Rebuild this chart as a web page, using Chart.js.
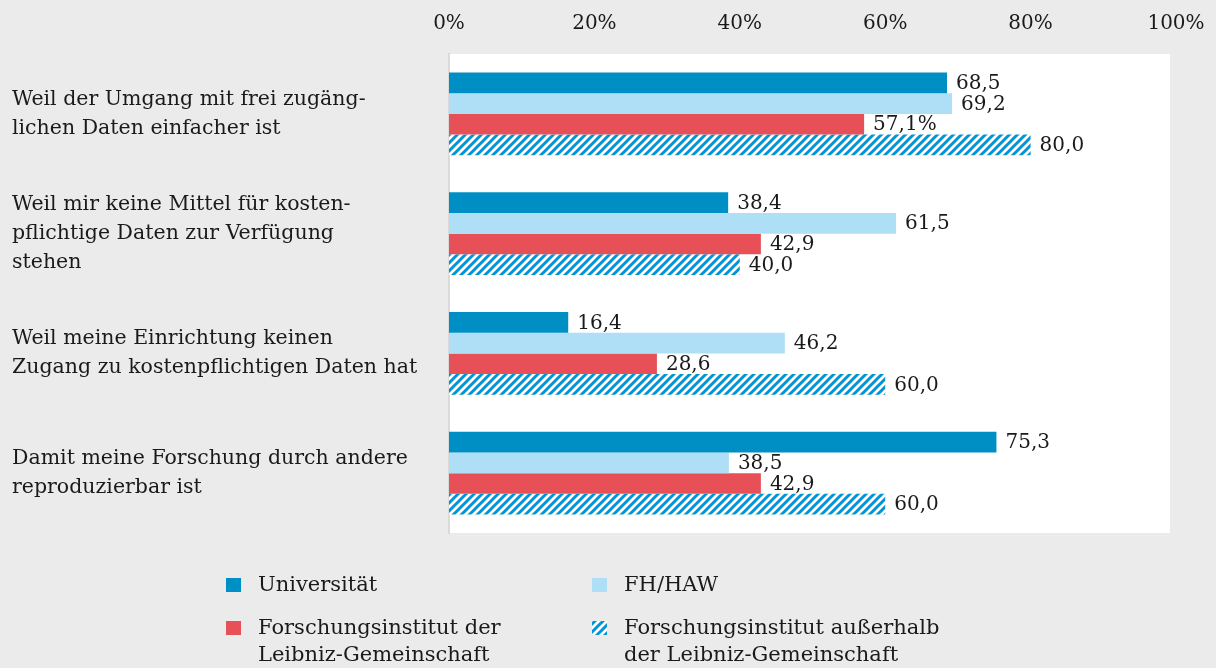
<!DOCTYPE html>
<html>
<head>
<meta charset="utf-8">
<script src="https://cdn.jsdelivr.net/npm/chart.js@4/dist/chart.umd.min.js"></script>
<style>
  html, body { margin: 0; padding: 0; background: #ebebeb; }
  #wrap { width: 1216px; height: 668px; position: relative; }
</style>
</head>
<body>
<div id="wrap"><canvas id="chart"></canvas></div>
<script>
// categories (multi-line, as in the original)
const categories = [
  ['Weil der Umgang mit frei zugäng-', 'lichen Daten einfacher ist'],
  ['Weil mir keine Mittel für kosten-', 'pflichtige Daten zur Verfügung', 'stehen'],
  ['Weil meine Einrichtung keinen', 'Zugang zu kostenpflichtigen Daten hat'],
  ['Damit meine Forschung durch andere', 'reproduzierbar ist']
];

const seriesNames = [
  ['Universität'],
  ['FH/HAW'],
  ['Forschungsinstitut der', 'Leibniz-Gemeinschaft'],
  ['Forschungsinstitut außerhalb', 'der Leibniz-Gemeinschaft']
];

// values in %
const universitaet = [68.5, 38.4, 16.4, 75.3];
const fhHaw = [69.2, 61.5, 46.2, 38.5];
const leibniz = [57.1, 42.9, 28.6, 42.9];
const ausserhalb = [80.0, 40.0, 60.0, 60.0];

const tickValues = [0, 20, 40, 60, 80, 100];

// the original prints a % sign on this one label only
const percentLabel = { dataset: 2, index: 0 };

const FONT = '"DejaVu Serif", serif';
const TEXT = '#1a1a1a';

function hatch(color) {
  const c = document.createElement('canvas');
  c.width = 8; c.height = 8;
  const g = c.getContext('2d');
  g.fillStyle = '#ffffff';
  g.fillRect(0, 0, 8, 8);
  g.strokeStyle = color;
  g.lineWidth = 3;
  g.beginPath();
  g.moveTo(-2, 10); g.lineTo(10, -2);
  g.moveTo(-6, 6); g.lineTo(6, -6);
  g.moveTo(2, 14); g.lineTo(14, 2);
  g.stroke();
  return g.createPattern(c, 'repeat');
}

const colors = ['#008fc4', '#afdff7', '#e85057', hatch('#0096d6')];

const plotBackground = {
  id: 'plotBackground',
  beforeDraw(chart) {
    const { ctx, chartArea } = chart;
    ctx.save();
    ctx.fillStyle = '#ffffff';
    ctx.fillRect(chartArea.left, chartArea.top, chartArea.right - chartArea.left - 6, chartArea.bottom - chartArea.top);
    ctx.restore();
  }
};

const valueLabels = {
  id: 'valueLabels',
  afterDatasetsDraw(chart) {
    const ctx = chart.ctx;
    ctx.save();
    ctx.font = '20px ' + FONT;
    ctx.fillStyle = TEXT;
    ctx.textAlign = 'left';
    ctx.textBaseline = 'middle';
    chart.data.datasets.forEach((ds, di) => {
      const meta = chart.getDatasetMeta(di);
      meta.data.forEach((bar, i) => {
        let txt = ds.data[i].toFixed(1).replace('.', ',');
        if (di === percentLabel.dataset && i === percentLabel.index) txt += '%';
        ctx.fillText(txt, bar.x + 9, bar.y + 1);
      });
    });
    ctx.restore();
  }
};

// legend drawn by hand because entries wrap over two lines
const bottomLegend = {
  id: 'bottomLegend',
  afterDraw(chart) {
    const ctx = chart.ctx;
    const cols = [226, 592];
    const rows = [chart.chartArea.bottom + 52, chart.chartArea.bottom + 95];
    ctx.save();
    ctx.font = '21px ' + FONT;
    ctx.textBaseline = 'middle';
    ctx.textAlign = 'left';
    chart.data.datasets.forEach((ds, i) => {
      const x = cols[i % 2];
      const y = rows[Math.floor(i / 2)];
      ctx.fillStyle = ds.backgroundColor;
      ctx.fillRect(x, y - 7, 15, 14);
      ctx.fillStyle = TEXT;
      ds.label.forEach((line, k) => {
        ctx.fillText(line, x + 32, y + 1 + k * 27);
      });
    });
    ctx.restore();
  }
};

new Chart(document.getElementById('chart'), {
  type: 'bar',
  data: {
    labels: categories,
    datasets: [
      { label: seriesNames[0], data: universitaet, backgroundColor: colors[0] },
      { label: seriesNames[1], data: fhHaw, backgroundColor: colors[1] },
      { label: seriesNames[2], data: leibniz, backgroundColor: colors[2] },
      { label: seriesNames[3], data: ausserhalb, backgroundColor: colors[3] }
    ]
  },
  options: {
    indexAxis: 'y',
    responsive: true,
    maintainAspectRatio: false,
    animation: false,
    datasets: {
      bar: { categoryPercentage: 0.69, barPercentage: 1.0, borderWidth: 0 }
    },
    layout: { padding: { left: 12, right: 40, top: 0, bottom: 135 } },
    plugins: {
      legend: { display: false },
      tooltip: { enabled: false }
    },
    scales: {
      x: {
        position: 'top',
        min: 0,
        max: 100,
        afterBuildTicks(scale) {
          scale.ticks = tickValues.map(v => ({ value: v }));
        },
        afterFit(scale) {
          scale.height = 54;
          scale.paddingLeft = 0;
          scale.paddingRight = 0;
        },
        grid: { display: false, drawTicks: false },
        border: { display: false },
        ticks: {
          padding: 18,
          color: TEXT,
          font: { family: FONT, size: 20 },
          callback: v => v + '%'
        }
      },
      y: {
        afterFit(scale) { scale.width = 437; },
        grid: { display: false, drawTicks: false },
        border: { display: true, color: '#dadada', width: 2 },
        ticks: {
          crossAlign: 'far',
          padding: 0,
          color: TEXT,
          font: { family: FONT, size: 20.5, lineHeight: 1.42 }
        }
      }
    }
  },
  plugins: [plotBackground, valueLabels, bottomLegend]
});
</script>
</body>
</html>
